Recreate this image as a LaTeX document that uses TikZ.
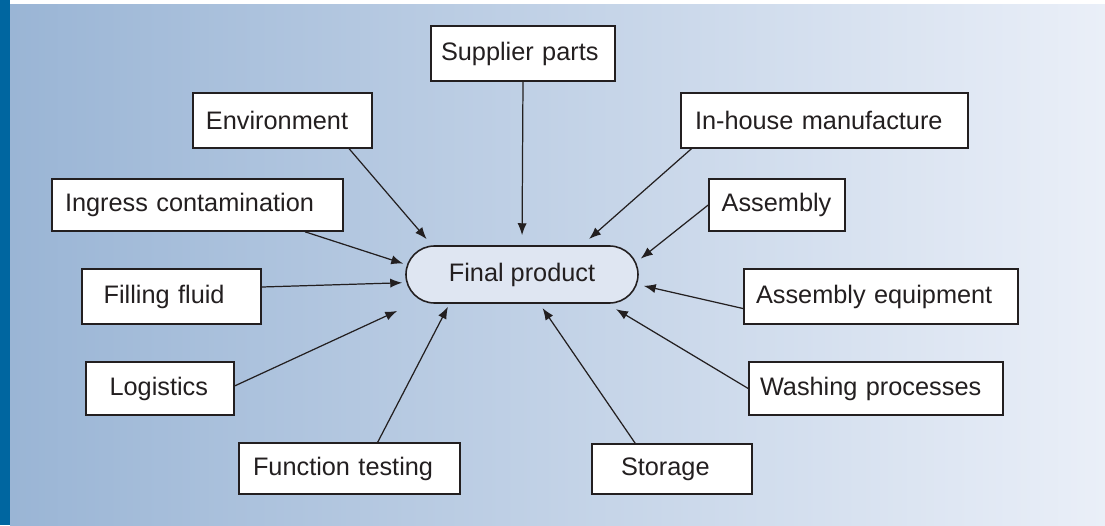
\documentclass[tikz,border=0pt]{standalone}
\usepackage{fontspec}
\setmainfont{Liberation Sans}
\usepackage{tikz}
\usetikzlibrary{arrows.meta}
\definecolor{bgleft}{RGB}{154,181,213}
\definecolor{bgright}{RGB}{234,239,248}
\definecolor{strip}{RGB}{0,102,160}
\definecolor{finalfill}{RGB}{223,230,242}
\definecolor{ink}{RGB}{35,31,32}
\hyphenpenalty=10000

\begin{document}
\begin{tikzpicture}
\tikzstyle{box}=[draw=ink, fill=white, line width=0.45pt, align=left, minimum height=0.55cm, font=\fontsize{7.2}{8.6}\selectfont, text=ink]
\tikzstyle{link}=[-{Latex[length=3.4pt,width=2.6pt]}, draw=ink, line width=0.35pt]
\useasboundingbox (0,0) rectangle (11.05,5.25);
\fill [white] (0,0) rectangle (11.05,5.25);
\shade [left color=bgleft, right color=bgright] (0.1,0) rectangle (11.05,5.2);
\fill [strip] (0,0) rectangle (0.1,5.25);
% centre
\node [box, fill=finalfill, rounded corners=0.285cm, align=center, minimum width=2.32cm, minimum height=0.57cm] (final) at (5.22,2.505) {Final product};
% sources
\node [box, text width=1.64cm, inner xsep=0.10cm] (supplier) at (5.23,4.715) {Supplier parts};
\node [box, text width=1.53cm, inner xsep=0.13cm] (environment) at (2.825,4.045) {Environment};
\node [box, text width=2.59cm, inner xsep=0.14cm] (inhouse) at (8.245,4.045) {In-house manufacture};
\node [box, text width=2.65cm, inner xsep=0.13cm, minimum height=0.52cm] (ingress) at (1.975,3.20) {Ingress contamination};
\node [box, text width=1.106cm, inner xsep=0.127cm, minimum height=0.52cm] (assembly) at (7.77,3.20) {Assembly};
\node [box, text width=1.358cm, inner xsep=0.216cm] (filling) at (1.715,2.285) {Filling fluid};
\node [box, text width=2.50cm, inner xsep=0.12cm] (asmequip) at (8.81,2.285) {Assembly equipment};
\node [box, text width=1.008cm, inner xsep=0.236cm, minimum height=0.53cm] (logistics) at (1.60,1.365) {Logistics};
\node [box, text width=2.32cm, inner xsep=0.11cm, minimum height=0.53cm] (washing) at (8.76,1.365) {Washing processes};
\node [box, text width=1.93cm, inner xsep=0.14cm, minimum height=0.51cm] (function) at (3.495,0.565) {Function testing};
\node [box, text width=1.02cm, inner xsep=0.29cm, minimum height=0.50cm] (storage) at (6.72,0.56) {Storage};
% arrows
\draw [link, shorten >=0.08cm] (environment.-23) -- (final.162);
\draw [link, shorten >=0.10cm] (supplier.south) -- (final.north);
\draw [link, shorten >=0.094cm] (inhouse.192) -- (final.26);
\draw [link, shorten >=0.021cm] (ingress.-14) -- (final.175);
\draw [link, shorten >=0.025cm] (assembly.west) -- (final.7);
\draw [link, shorten >=0.03cm] (filling.6) -- (final.-176);
\draw [link, shorten >=0.051cm] (asmequip.185) -- (final.-5);
\draw [link, shorten >=0.17cm] (logistics.2) -- (final.195);
\draw [link, shorten >=0.104cm] (washing.west) -- (final.-19);
\draw [link, shorten >=0.034cm] (function.43) -- (final.202);
\draw [link, shorten >=0.052cm] (storage.145) -- (final.-59);
\end{tikzpicture}
\end{document}
